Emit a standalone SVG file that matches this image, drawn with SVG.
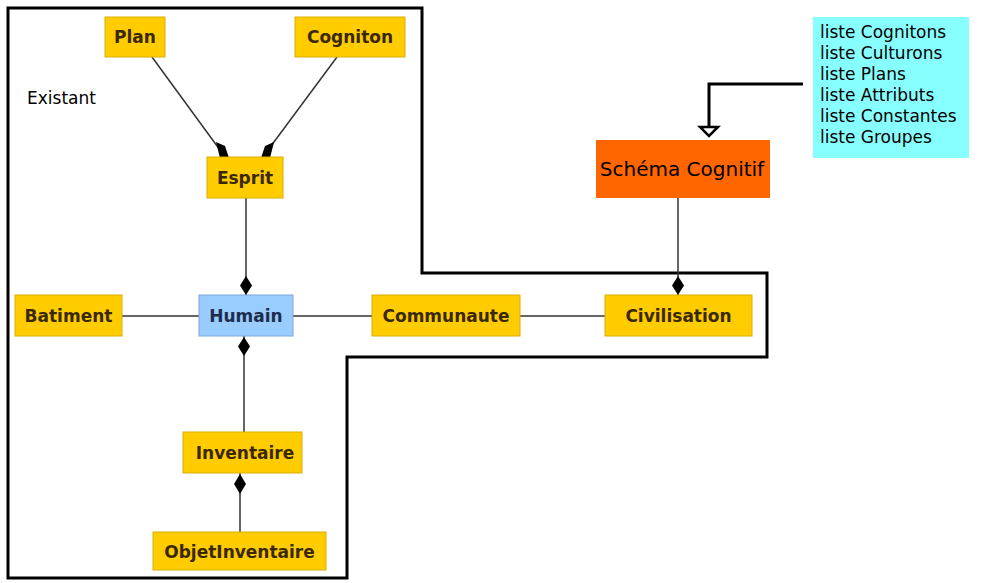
<svg xmlns="http://www.w3.org/2000/svg" width="994" height="583" viewBox="0 0 994 583">
<style>
.n rect{fill:#FFCC00;stroke:#D9AE00;stroke-width:1}
.n text{font-family:"DejaVu Sans",sans-serif;font-weight:bold;font-size:17px;fill:#3A2800;text-anchor:middle}
.h rect{fill:#99CCFF;stroke:#7FA8D6}
.h text{fill:#1E2E4A}
.c line{stroke:#333;stroke-width:1.5}
.d{fill:#000}
.plain{font-family:"DejaVu Sans",sans-serif;font-size:17px;fill:#000}
</style>
<rect width="994" height="583" fill="#fff"/>
<path id="boundary" d="M8,8 H422 V273 H767 V357 H347 V578 H8 Z" fill="none" stroke="#000" stroke-width="3"/>
<text class="plain" x="27" y="104">Existant</text>
<g id="connectors" class="c">
  <line x1="152" y1="57" x2="220" y2="150"/>
  <line x1="337" y1="57" x2="268" y2="150"/>
  <line x1="246" y1="198" x2="246" y2="295"/>
  <line x1="122" y1="316" x2="199" y2="316"/>
  <line x1="293" y1="316" x2="372" y2="316"/>
  <line x1="520" y1="316" x2="605" y2="316"/>
  <line x1="244" y1="336" x2="244" y2="432"/>
  <line x1="240" y1="473" x2="240" y2="532"/>
  <line x1="678" y1="198" x2="678" y2="295"/>
  <path d="M246,276 L252,285.5 L246,295 L240,285.5 Z" class="d"/>
  <path d="M244,337 L250,346.5 L244,356 L238,346.5 Z" class="d"/>
  <path d="M240,474 L246,484 L240,494 L234,484 Z" class="d"/>
  <path d="M678,276 L684,285.5 L678,295 L672,285.5 Z" class="d"/>
  <path d="M216,142 L225,146 L229,158 L220,158 Z" class="d"/>
  <path d="M274,142 L265,146 L261,158 L270,158 Z" class="d"/>
  <path d="M803,84 H709 V127" fill="none" stroke="#000" stroke-width="3"/>
  <path d="M700,127 H718 L709,136 Z" fill="#fff" stroke="#000" stroke-width="2.5"/>
</g>
<g id="plan" class="n"><rect x="105" y="17" width="60" height="40"/><text x="135" y="43">Plan</text></g>
<g id="cogniton" class="n"><rect x="295" y="17" width="110" height="40"/><text x="350" y="43">Cogniton</text></g>
<g id="esprit" class="n"><rect x="207" y="157" width="76" height="41"/><text x="245" y="184">Esprit</text></g>
<g id="batiment" class="n"><rect x="15" y="295" width="107" height="41"/><text x="68.5" y="322">Batiment</text></g>
<g id="humain" class="n h"><rect x="199" y="295" width="94" height="41"/><text x="246" y="322">Humain</text></g>
<g id="communaute" class="n"><rect x="372" y="295" width="148" height="41"/><text x="446" y="322">Communaute</text></g>
<g id="civilisation" class="n"><rect x="605" y="295" width="147" height="41"/><text x="678.5" y="322">Civilisation</text></g>
<g id="inventaire" class="n"><rect x="183" y="432" width="119" height="41"/><text x="245" y="459">Inventaire</text></g>
<g id="objetinventaire" class="n"><rect x="153" y="532" width="173" height="38"/><text x="239.5" y="558">ObjetInventaire</text></g>
<g id="schema"><rect x="596" y="140" width="174" height="58" fill="#FF6600"/><text x="682" y="176" font-family="DejaVu Sans, sans-serif" font-size="20" fill="#000" text-anchor="middle">Schéma Cognitif</text></g>
<g id="listes"><rect x="813" y="17" width="156" height="141" fill="#88FFFF"/>
<text class="plain" x="820"><tspan x="820" y="38">liste Cognitons</tspan><tspan x="820" y="59">liste Culturons</tspan><tspan x="820" y="80">liste Plans</tspan><tspan x="820" y="101">liste Attributs</tspan><tspan x="820" y="122">liste Constantes</tspan><tspan x="820" y="143">liste Groupes</tspan></text></g>
</svg>
